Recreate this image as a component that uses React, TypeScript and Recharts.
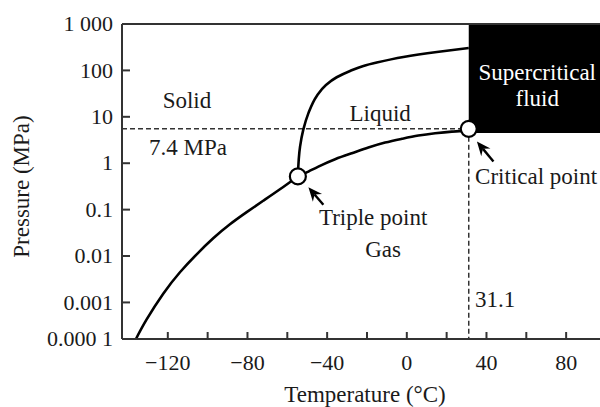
import React from 'react';
import {
  ComposedChart,
  Line,
  XAxis,
  YAxis,
  ReferenceLine,
  ReferenceArea,
  ReferenceDot,
  Label,
} from 'recharts';

// ---------- data ----------
const sublimationT = [-136, -130.7, -122.3, -113.9, -105.5, -97.2, -88.8, -80.4, -72.1, -63.7, -54.7];
const sublimationP = [0.0001, 0.000337, 0.00154, 0.00447, 0.0109, 0.0241, 0.0483, 0.0883, 0.155, 0.274, 0.52];

const meltingT = [-54.7, -53.6, -52.0, -49.4, -45.2, -40.6, -35.2, -28.5, -21.8, -15.1, -1.7, 15.1, 31.1];
const meltingP = [0.52, 2.28, 5.22, 12.0, 28.2, 48.6, 71.2, 97.3, 125, 148, 195, 250, 304];

const vaporT = [-54.7, -49.4, -44.4, -36.0, -27.6, -19.3, -10.9, -2.5, 5.8, 14.2, 22.6, 27.6, 31.1];
const vaporP = [0.52, 0.661, 0.847, 1.22, 1.64, 2.17, 2.78, 3.35, 3.94, 4.43, 4.8, 4.97, 5.5];

const triplePoint = { t: -54.7, p: 0.52 };
const criticalPoint = { t: 31.1, p: 5.5 };
const supercriticalBottomP = 4.5;

const xMin = -143;
const xMax = 97;
const pMax = 1000;
const pMin = 0.0001;

const xTicks = [-120, -100, -80, -60, -40, -20, 0, 20, 40, 60, 80];
const xTickLabelStep = 40;
const yTickPressures = [1000, 100, 10, 1, 0.1, 0.01, 0.001, 0.0001];
const yTickLabels = ['1 000', '100', '10', '1', '0.1', '0.01', '0.001', '0.000 1'];

const annotations = [
  { text: 'Solid', t: -110.4, p: 23, anchor: 'middle', color: '#1a1a1a' },
  { text: '7.4 MPa', t: -109.9, p: 2.14, anchor: 'middle', color: '#1a1a1a' },
  { text: 'Liquid', t: -13.4, p: 12.1, anchor: 'middle', color: '#1a1a1a' },
  { text: 'Supercritical', t: 65.5, p: 92.6, anchor: 'middle', color: '#ffffff' },
  { text: 'fluid', t: 65.5, p: 25.5, anchor: 'middle', color: '#ffffff' },
  { text: 'Critical point', t: 34.3, p: 0.508, anchor: 'start', color: '#1a1a1a' },
  { text: 'Triple point', t: -16.9, p: 0.0665, anchor: 'middle', color: '#1a1a1a' },
  { text: 'Gas', t: -11.9, p: 0.0136, anchor: 'middle', color: '#1a1a1a' },
  { text: '31.1', t: 34.3, p: 0.00114, anchor: 'start', color: '#1a1a1a' },
];

const arrows = [
  { tailT: -41.9, tailP: 0.127, tipT: -49.4, tipP: 0.305 },
  { tailT: 43.5, tailP: 1.09, tipT: 35.2, tipP: 2.93 },
];

// ---------- helpers ----------
// The figure's pressure axis is logarithmic, with its lowest decade drawn shorter.
const LOW_DECADE = 0.788;
const toV = (p: number) => {
  const l = Math.log10(p);
  return l >= -3 ? l : -3 + (l + 3) * LOW_DECADE;
};

const build = (ts: number[], ps: number[]) => ts.map((t, i) => ({ t, v: toV(ps[i]) }));
const sublimation = build(sublimationT, sublimationP);
const melting = build(meltingT, meltingP);
const vapor = build(vaporT, vaporP);
const yTicks = yTickPressures.map(toV);

const FONT = '"Liberation Serif", "Times New Roman", Times, serif';
const TEXT = '#1a1a1a';
const AXIS = '#333333';
const TICK_FS = 22;
const ANN_FS = 23;

const XTick = (props: any) => {
  const { x, y, payload } = props;
  const val = payload.value;
  const show = val % xTickLabelStep === 0;
  const label = val < 0 ? '\u2212' + Math.abs(val) : String(val);
  return (
    <g>
      <line x1={x} y1={y} x2={x} y2={y - 7} stroke={AXIS} strokeWidth={2} />
      {show && (
        <text x={x} y={y + 31} textAnchor="middle" fill={TEXT} fontSize={TICK_FS} fontFamily={FONT}>
          {label}
        </text>
      )}
    </g>
  );
};

const YTick = (props: any) => {
  const { x, y, payload } = props;
  const idx = yTicks.findIndex((v) => Math.abs(v - payload.value) < 1e-6);
  const label = idx >= 0 ? yTickLabels[idx] : '';
  return (
    <g>
      {idx > 0 && idx < yTicks.length - 1 && (
        <line x1={x} y1={y} x2={x + 8} y2={y} stroke={AXIS} strokeWidth={2} />
      )}
      <text x={x - 9} y={y + TICK_FS * 0.33} textAnchor="end" fill={TEXT} fontSize={TICK_FS} fontFamily={FONT}>
        {label}
      </text>
    </g>
  );
};

const XLabel = (props: any) => {
  const vb = props.viewBox || {};
  const cx = vb.x + vb.width / 2 + 4;
  const cy = vb.y + 55;
  return (
    <text x={cx} y={cy + ANN_FS * 0.33} textAnchor="middle" fill={TEXT} fontSize={ANN_FS} fontFamily={FONT}>
      Temperature (°C)
    </text>
  );
};

const YLabel = (props: any) => {
  const vb = props.viewBox || {};
  const cx = vb.x + 21;
  const cy = vb.y + vb.height / 2 + 5;
  return (
    <text
      x={cx}
      y={cy}
      dy={ANN_FS * 0.33}
      transform={`rotate(-90, ${cx}, ${cy})`}
      textAnchor="middle"
      fill={TEXT}
      fontSize={ANN_FS}
      fontFamily={FONT}
    >
      Pressure (MPa)
    </text>
  );
};

const textShape = (text: string, anchor: string, color: string) => (props: any) => (
  <text
    x={props.cx}
    y={props.cy + ANN_FS * 0.33}
    textAnchor={anchor as any}
    fill={color}
    fontSize={ANN_FS}
    fontFamily={FONT}
  >
    {text}
  </text>
);

const ArrowShape = (props: any) => {
  const { x1, y1, x2, y2 } = props;
  const dx = x2 - x1;
  const dy = y2 - y1;
  const len = Math.sqrt(dx * dx + dy * dy) || 1;
  const ux = dx / len;
  const uy = dy / len;
  const px = -uy;
  const py = ux;
  const head = 14;
  const half = 6;
  const notch = 9.5;
  const bx = x2 - ux * head;
  const by = y2 - uy * head;
  const nx = x2 - ux * notch;
  const ny = y2 - uy * notch;
  return (
    <g>
      <line x1={x1} y1={y1} x2={nx} y2={ny} stroke="#000" strokeWidth={2.4} />
      <polygon
        points={`${x2},${y2} ${bx + px * half},${by + py * half} ${nx},${ny} ${bx - px * half},${by - py * half}`}
        fill="#000"
      />
    </g>
  );
};

export default function App() {
  const yMin = toV(pMin);
  const yMax = toV(pMax);
  const critV = toV(criticalPoint.p);
  return (
    <div style={{ position: 'absolute', left: 0, top: 0, width: 600, height: 407, background: '#fff' }}>
      <ComposedChart width={600} height={407} margin={{ top: 24, right: 0, bottom: 0, left: 0 }}>
        <XAxis
          type="number"
          dataKey="t"
          domain={[xMin, xMax]}
          allowDataOverflow
          ticks={xTicks}
          interval={0}
          tick={XTick}
          tickLine={false}
          tickSize={0}
          tickMargin={0}
          height={68}
          axisLine={{ stroke: AXIS, strokeWidth: 2 }}
        >
          <Label content={XLabel} />
        </XAxis>
        <YAxis
          type="number"
          dataKey="v"
          domain={[yMin, yMax]}
          allowDataOverflow
          ticks={yTicks}
          interval={0}
          tick={YTick}
          tickLine={false}
          tickSize={0}
          tickMargin={0}
          width={122}
          axisLine={{ stroke: AXIS, strokeWidth: 2 }}
        >
          <Label content={YLabel} />
        </YAxis>

        <ReferenceArea
          x1={criticalPoint.t}
          x2={xMax}
          y1={toV(supercriticalBottomP)}
          y2={yMax}
          fill="#000"
          fillOpacity={1}
          stroke="none"
        />
        <ReferenceLine y={yMax} stroke={AXIS} strokeWidth={2} />
        <ReferenceLine
          segment={[
            { x: xMin, y: critV },
            { x: criticalPoint.t, y: critV },
          ]}
          stroke={AXIS}
          strokeWidth={1.5}
          strokeDasharray="5 3"
        />
        <ReferenceLine
          segment={[
            { x: criticalPoint.t, y: critV },
            { x: criticalPoint.t, y: yMin },
          ]}
          stroke={AXIS}
          strokeWidth={1.5}
          strokeDasharray="5 3"
        />

        <Line data={sublimation} dataKey="v" type="natural" stroke="#000" strokeWidth={2.6} dot={false} isAnimationActive={false} />
        <Line data={melting} dataKey="v" type="monotoneY" stroke="#000" strokeWidth={2.6} dot={false} isAnimationActive={false} />
        <Line data={vapor} dataKey="v" type="natural" stroke="#000" strokeWidth={2.6} dot={false} isAnimationActive={false} />

        {arrows.map((a, i) => (
          <ReferenceLine
            key={'arrow' + i}
            segment={[
              { x: a.tailT, y: toV(a.tailP) },
              { x: a.tipT, y: toV(a.tipP) },
            ]}
            shape={ArrowShape}
          />
        ))}

        <ReferenceDot x={triplePoint.t} y={toV(triplePoint.p)} r={8} fill="#fff" stroke="#000" strokeWidth={2.2} />
        <ReferenceDot x={criticalPoint.t} y={critV} r={8} fill="#fff" stroke="#000" strokeWidth={2.2} />

        {annotations.map((a, i) => (
          <ReferenceDot
            key={'ann' + i}
            x={a.t}
            y={toV(a.p)}
            r={1}
            shape={textShape(a.text, a.anchor, a.color)}
          />
        ))}
      </ComposedChart>
    </div>
  );
}
